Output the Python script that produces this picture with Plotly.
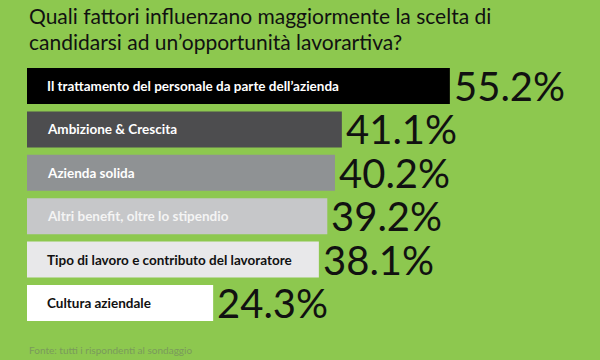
import plotly.graph_objects as go

categories = [
    "Il trattamento del personale da parte dell\u2019azienda",
    "Ambizione & Crescita",
    "Azienda solida",
    "Altri benefit, oltre lo stipendio",
    "Tipo di lavoro e contributo del lavoratore",
    "Cultura aziendale",
]
values = [55.2, 41.1, 40.2, 39.2, 38.1, 24.3]
value_labels = ["55.2%", "41.1%", "40.2%", "39.2%", "38.1%", "24.3%"]
bar_colors = ["#000000", "#4d4d4f", "#8f9294", "#c6c7c9", "#e8e8ea", "#ffffff"]
label_colors = ["#ffffff", "#ffffff", "#ffffff", "#f4f4f4", "#111111", "#111111"]

title_lines = [
    "Quali fattori influenzano maggiormente la scelta di",
    "candidarsi ad un\u2019opportunit\u00e0 lavorartiva?",
]
source_text = "Fonte: tutti i rispondenti al sondaggio"

GREEN = "#8dc84f"

fig = go.Figure()
fig.add_trace(go.Bar(
    y=categories,
    x=values,
    orientation="h",
    marker=dict(color=bar_colors, line=dict(width=0)),
    hoverinfo="skip",
))

annotations = []
for cat, v, lab, lc in zip(categories, values, value_labels, label_colors):
    annotations.append(dict(
        x=0, y=cat, xref="x", yref="y", text=cat, showarrow=False,
        xanchor="left", yanchor="middle", xshift=18,
        font=dict(family="Lato", size=13.5, color=lc, weight="bold"),
    ))
    annotations.append(dict(
        x=v, y=cat, xref="x", yref="y", text=lab, showarrow=False,
        xanchor="left", yanchor="middle", xshift=2, yshift=0,
        font=dict(family="Lato", size=40, color="#111111"),
    ))

# plot area spans pixels 60..329 vertically
def py(p):
    return (329 - p) / 269.0

annotations.append(dict(
    x=0, y=py(16), xref="paper", yref="paper", text=title_lines[0],
    showarrow=False, xanchor="left", yanchor="middle", xshift=0,
    font=dict(family="Lato", size=21, color="#111111"),
))
annotations.append(dict(
    x=0, y=py(41), xref="paper", yref="paper", text=title_lines[1],
    showarrow=False, xanchor="left", yanchor="middle", xshift=0,
    font=dict(family="Lato", size=21, color="#111111"),
))
annotations.append(dict(
    x=0, y=py(350), xref="paper", yref="paper", text=source_text,
    showarrow=False, xanchor="left", yanchor="middle", xshift=0,
    font=dict(family="Lato", size=10, color="#7a9a5c"),
))

fig.update_layout(
    width=600, height=360,
    margin=dict(l=27, r=0, t=60, b=31),
    paper_bgcolor=GREEN, plot_bgcolor=GREEN,
    bargap=0.17,
    showlegend=False,
    xaxis=dict(range=[0, 74.8], visible=False, fixedrange=True),
    yaxis=dict(autorange="reversed", visible=False, fixedrange=True),
    annotations=annotations,
)

fig.write_html(
    "out.html",
    config={"displayModeBar": False},
    post_script="document.body.style.margin='0';document.body.style.overflow='hidden';document.body.style.background='" + GREEN + "';",
)
